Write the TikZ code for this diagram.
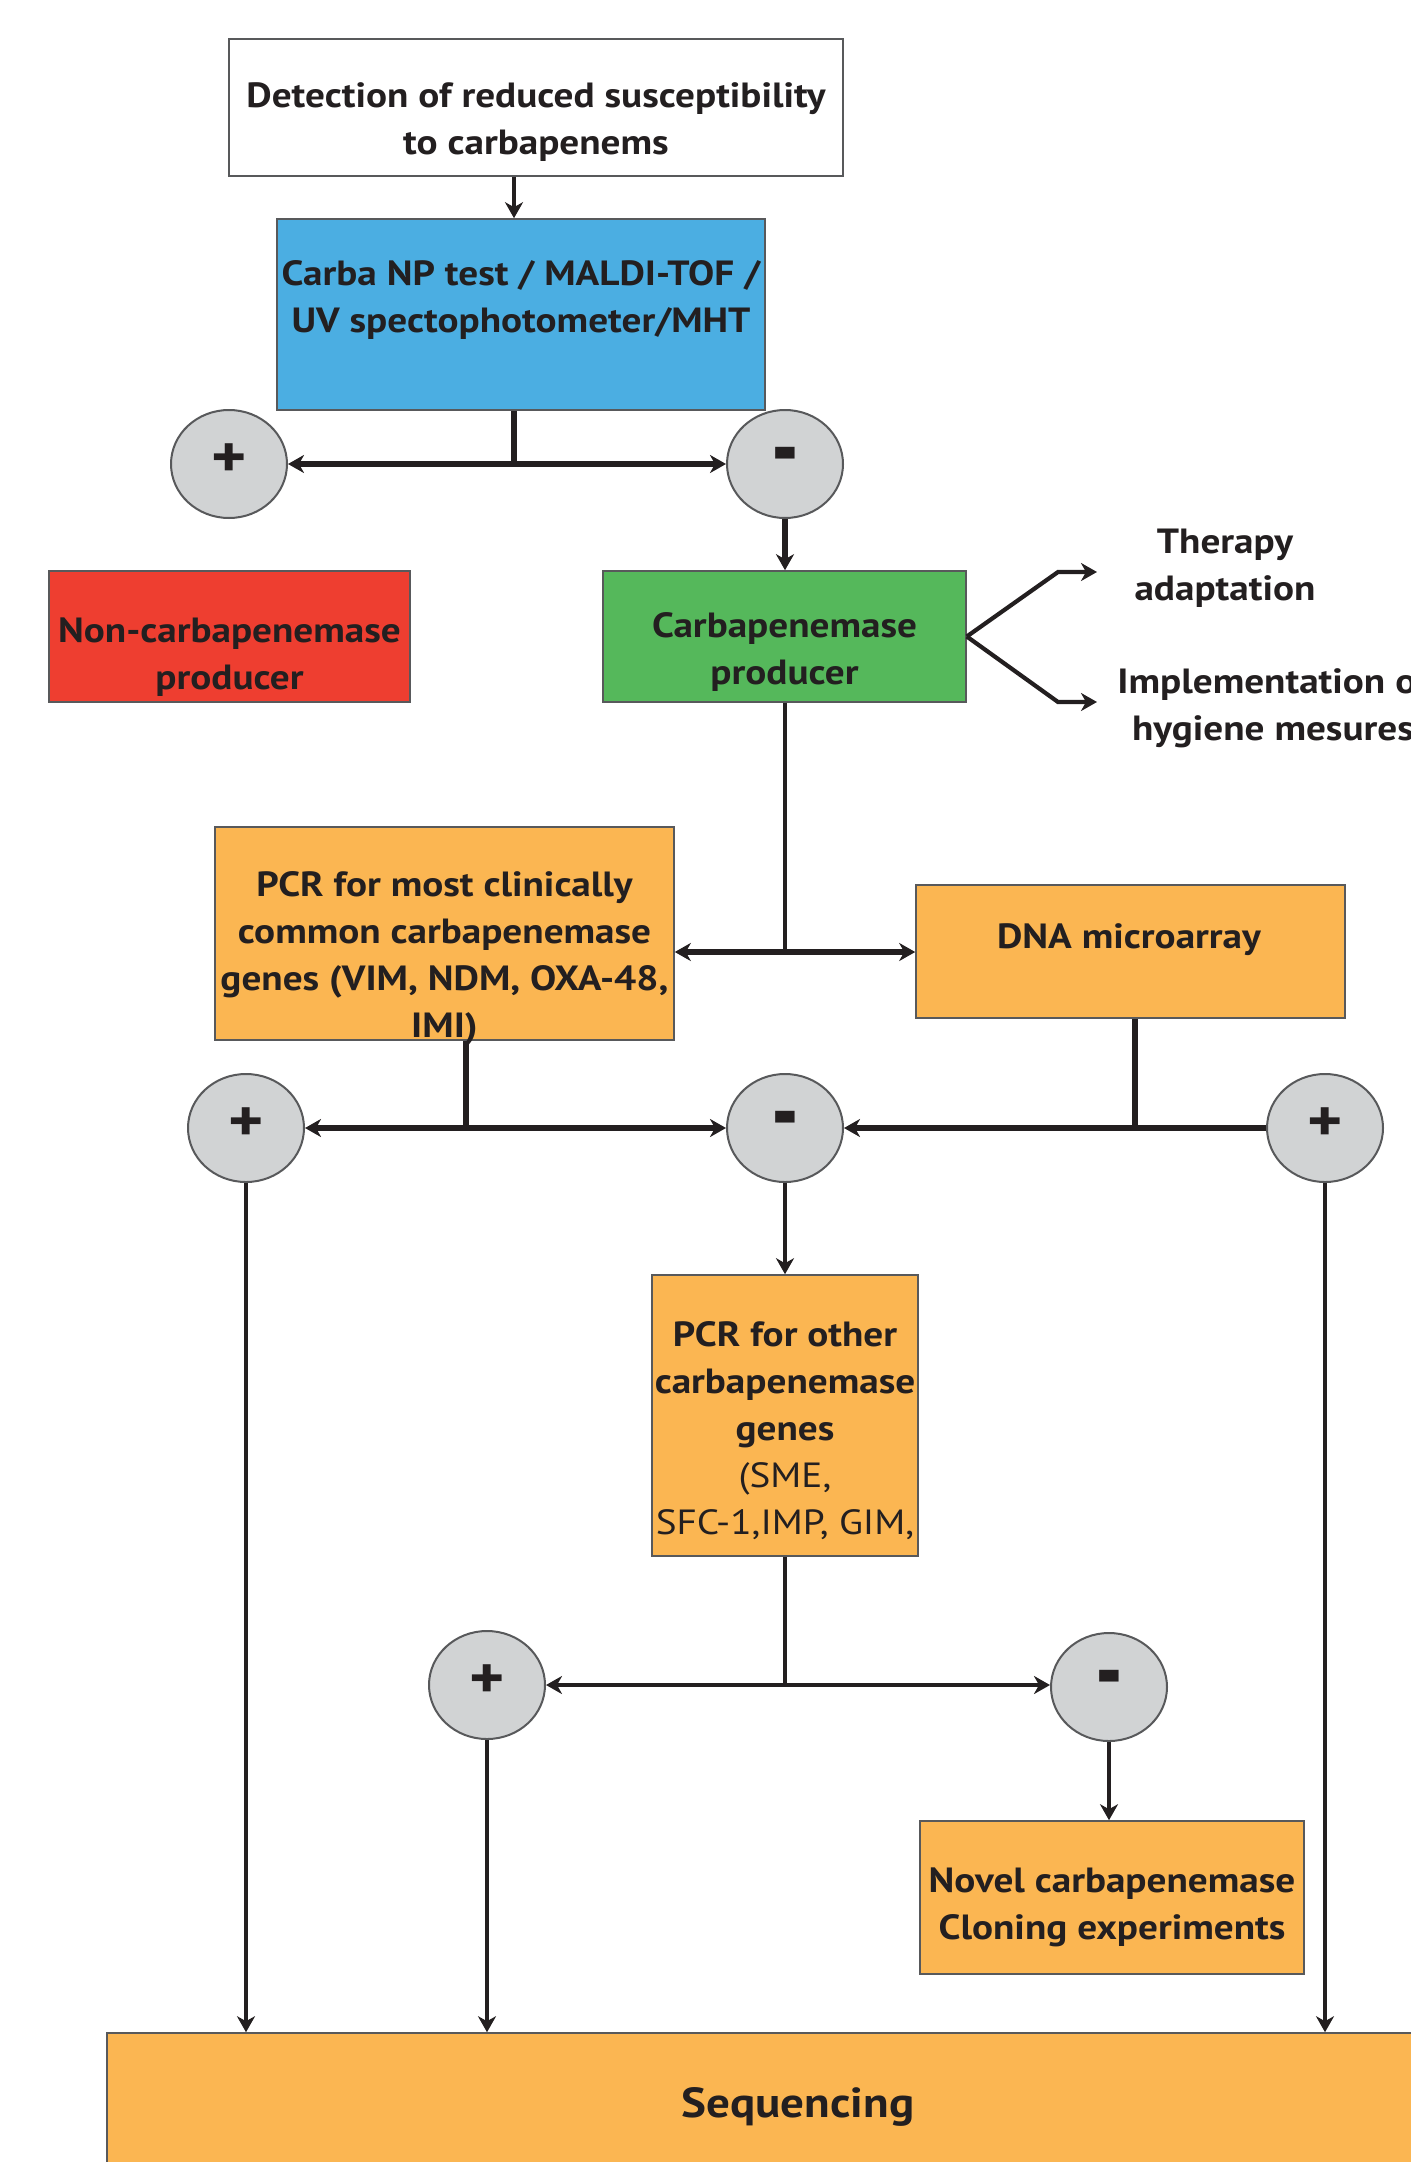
\documentclass[tikz,border=0pt]{standalone}
\usepackage{fontspec}
\setmainfont{PT Sans}[FakeStretch=1.12]
\usetikzlibrary{arrows.meta,shapes.geometric}
\definecolor{cblue}{RGB}{75,174,226}
\definecolor{corange}{RGB}{251,182,82}
\definecolor{cred}{RGB}{238,62,48}
\definecolor{cgreen}{RGB}{85,184,91}
\definecolor{cgray}{RGB}{209,211,212}
\definecolor{cline}{RGB}{35,31,32}
\definecolor{cborder}{RGB}{88,89,91}
\newcommand{\minussign}{\raisebox{-9pt}[0pt][0pt]{\scalebox{1.15}[1.7]{-}}}
\begin{document}
\begin{tikzpicture}[x=0.5pt,y=-0.5pt,
  box/.style={draw=cborder, line width=0.8pt, rectangle, inner sep=0pt},
  txt/.style={align=center, inner sep=0pt, font=\fontsize{17.5}{23.5}\selectfont\bfseries, text=cline},
  pm/.style={ellipse, draw=cborder, fill=cgray, line width=1pt, minimum width=58pt, minimum height=54pt, inner sep=0pt, font=\fontsize{30}{30}\selectfont\bfseries, text=cline},
  conn/.style={draw=cline, line width=2.6pt},
  thin/.style={draw=cline, line width=2.1pt},
  arr/.style={-{Stealth[length=8pt,width=9pt,inset=2.5pt]}},
  darr/.style={{Stealth[length=8pt,width=9pt,inset=2.5pt]}-{Stealth[length=8pt,width=9pt,inset=2.5pt]}},
]
\useasboundingbox (0,0) rectangle (1410,2162);
% boxes
\node[box, fill=white, minimum width=307pt, minimum height=68.5pt] (top) at (536,107.5) {};
\node[box, fill=cblue, minimum width=244pt, minimum height=95.5pt] (blue) at (521,314.5) {};
\node[box, fill=cred, minimum width=180.5pt, minimum height=65.5pt] (red) at (229.5,636.5) {};
\node[box, fill=cgreen, minimum width=181.5pt, minimum height=65.5pt] (green) at (784.5,636.5) {};
\node[box, fill=corange, minimum width=229.5pt, minimum height=106.5pt] (pcr1) at (444.5,933.5) {};
\node[box, fill=corange, minimum width=214.5pt, minimum height=66.5pt] (dna) at (1130.5,951.5) {};
\node[box, fill=corange, minimum width=133pt, minimum height=140.5pt] (pcr2) at (785,1415.5) {};
\node[box, fill=corange, minimum width=192pt, minimum height=76.5pt] (novel) at (1112,1897.5) {};
\node[box, fill=corange, minimum width=676.5pt, minimum height=93.5pt] (seq) at (783.5,2126.5) {};
% texts
\node[txt] (ttop) at (536,122) {Detection of reduced susceptibility\\to carbapenems};
\node[txt] (tblue) at (521,300) {Carba NP test / MALDI-TOF /\\UV spectophotometer/MHT};
\node[txt] (tred) at (229.5,657) {Non-carbapenemase\\producer};
\node[txt] (tgreen) at (784.5,652) {Carbapenemase\\producer};
\node[txt] (tther) at (1225,568) {Therapy\\adaptation};
\node[txt, anchor=west] (thyg) at (1117,708) {Implementation of\\hygiene mesures};
\node[txt] (tpcr1) at (444.5,958) {PCR for most clinically\\common carbapenemase\\genes (VIM, NDM, OXA-48,\\IMI)};
\node[txt] (tdna) at (1129,940) {DNA microarray};
\node[txt] (tpcr2) at (785,1431) {PCR for other\\carbapenemase\\genes\\{\mdseries (SME,}\\{\mdseries SFC-1,IMP, GIM,}};
\node[txt] (tnovel) at (1112,1907) {Novel carbapenemase\\Cloning experiments};
\node[txt, font=\fontsize{21}{25}\selectfont\bfseries] (tseq) at (798,2107) {Sequencing};
% plus/minus ellipses
\node[pm] (p1) at (229,464) {\raisebox{3pt}{+}};
\node[pm] (m1) at (785,464) {\minussign};
\node[pm] (p2) at (246,1128) {\raisebox{3pt}{+}};
\node[pm] (m2) at (785,1128) {\minussign};
\node[pm] (p3) at (1325,1128) {\raisebox{3pt}{+}};
\node[pm] (p4) at (487,1685) {\raisebox{3pt}{+}};
\node[pm] (m4) at (1109,1687) {\minussign};
% junction coordinates
\coordinate (j0) at (514,200);
\coordinate (j1) at (514,464);
\coordinate (j2) at (785,952);
\coordinate (j3) at (466,1128);
\coordinate (j4) at (1135,1128);
\coordinate (j5) at (785,1685);
\coordinate (t1) at (1097,572);
\coordinate (t2) at (1097,702);
% connectors
\draw[thin,arr] (top.south -| j0) -- (blue.north -| j0);
\draw[conn] (blue.south -| j1) -- (j1);
\draw[conn,darr] (p1.east) -- (m1.west);
\draw[conn,arr] (m1.south) -- (green.north -| m1);
\draw[thin,arr] (green.east) -- (1058,572) -- (t1);
\draw[thin,arr] (green.east) -- (1058,702) -- (t2);
\draw[thin] (green.south -| j2) -- (j2);
\draw[conn,darr] (pcr1.east |- j2) -- (dna.west |- j2);
\draw[conn] (pcr1.south -| j3) -- (j3);
\draw[conn] (dna.south -| j4) -- (j4);
\draw[conn,darr] (p2.east) -- (m2.west);
\draw[conn,arr] (p3.west) -- (m2.east);
\draw[thin,arr] (m2.south) -- (pcr2.north);
\draw[thin,arr] (p2.south) -- (p2.south |- seq.north);
\draw[thin,arr] (p3.south) -- (p3.south |- seq.north);
\draw[thin] (pcr2.south) -- (j5);
\draw[thin,darr] (p4.east |- j5) -- (m4.west |- j5);
\draw[thin,arr] (p4.south) -- (p4.south |- seq.north);
\draw[thin,arr] (m4.south) -- (novel.north -| m4);
\end{tikzpicture}
\end{document}
